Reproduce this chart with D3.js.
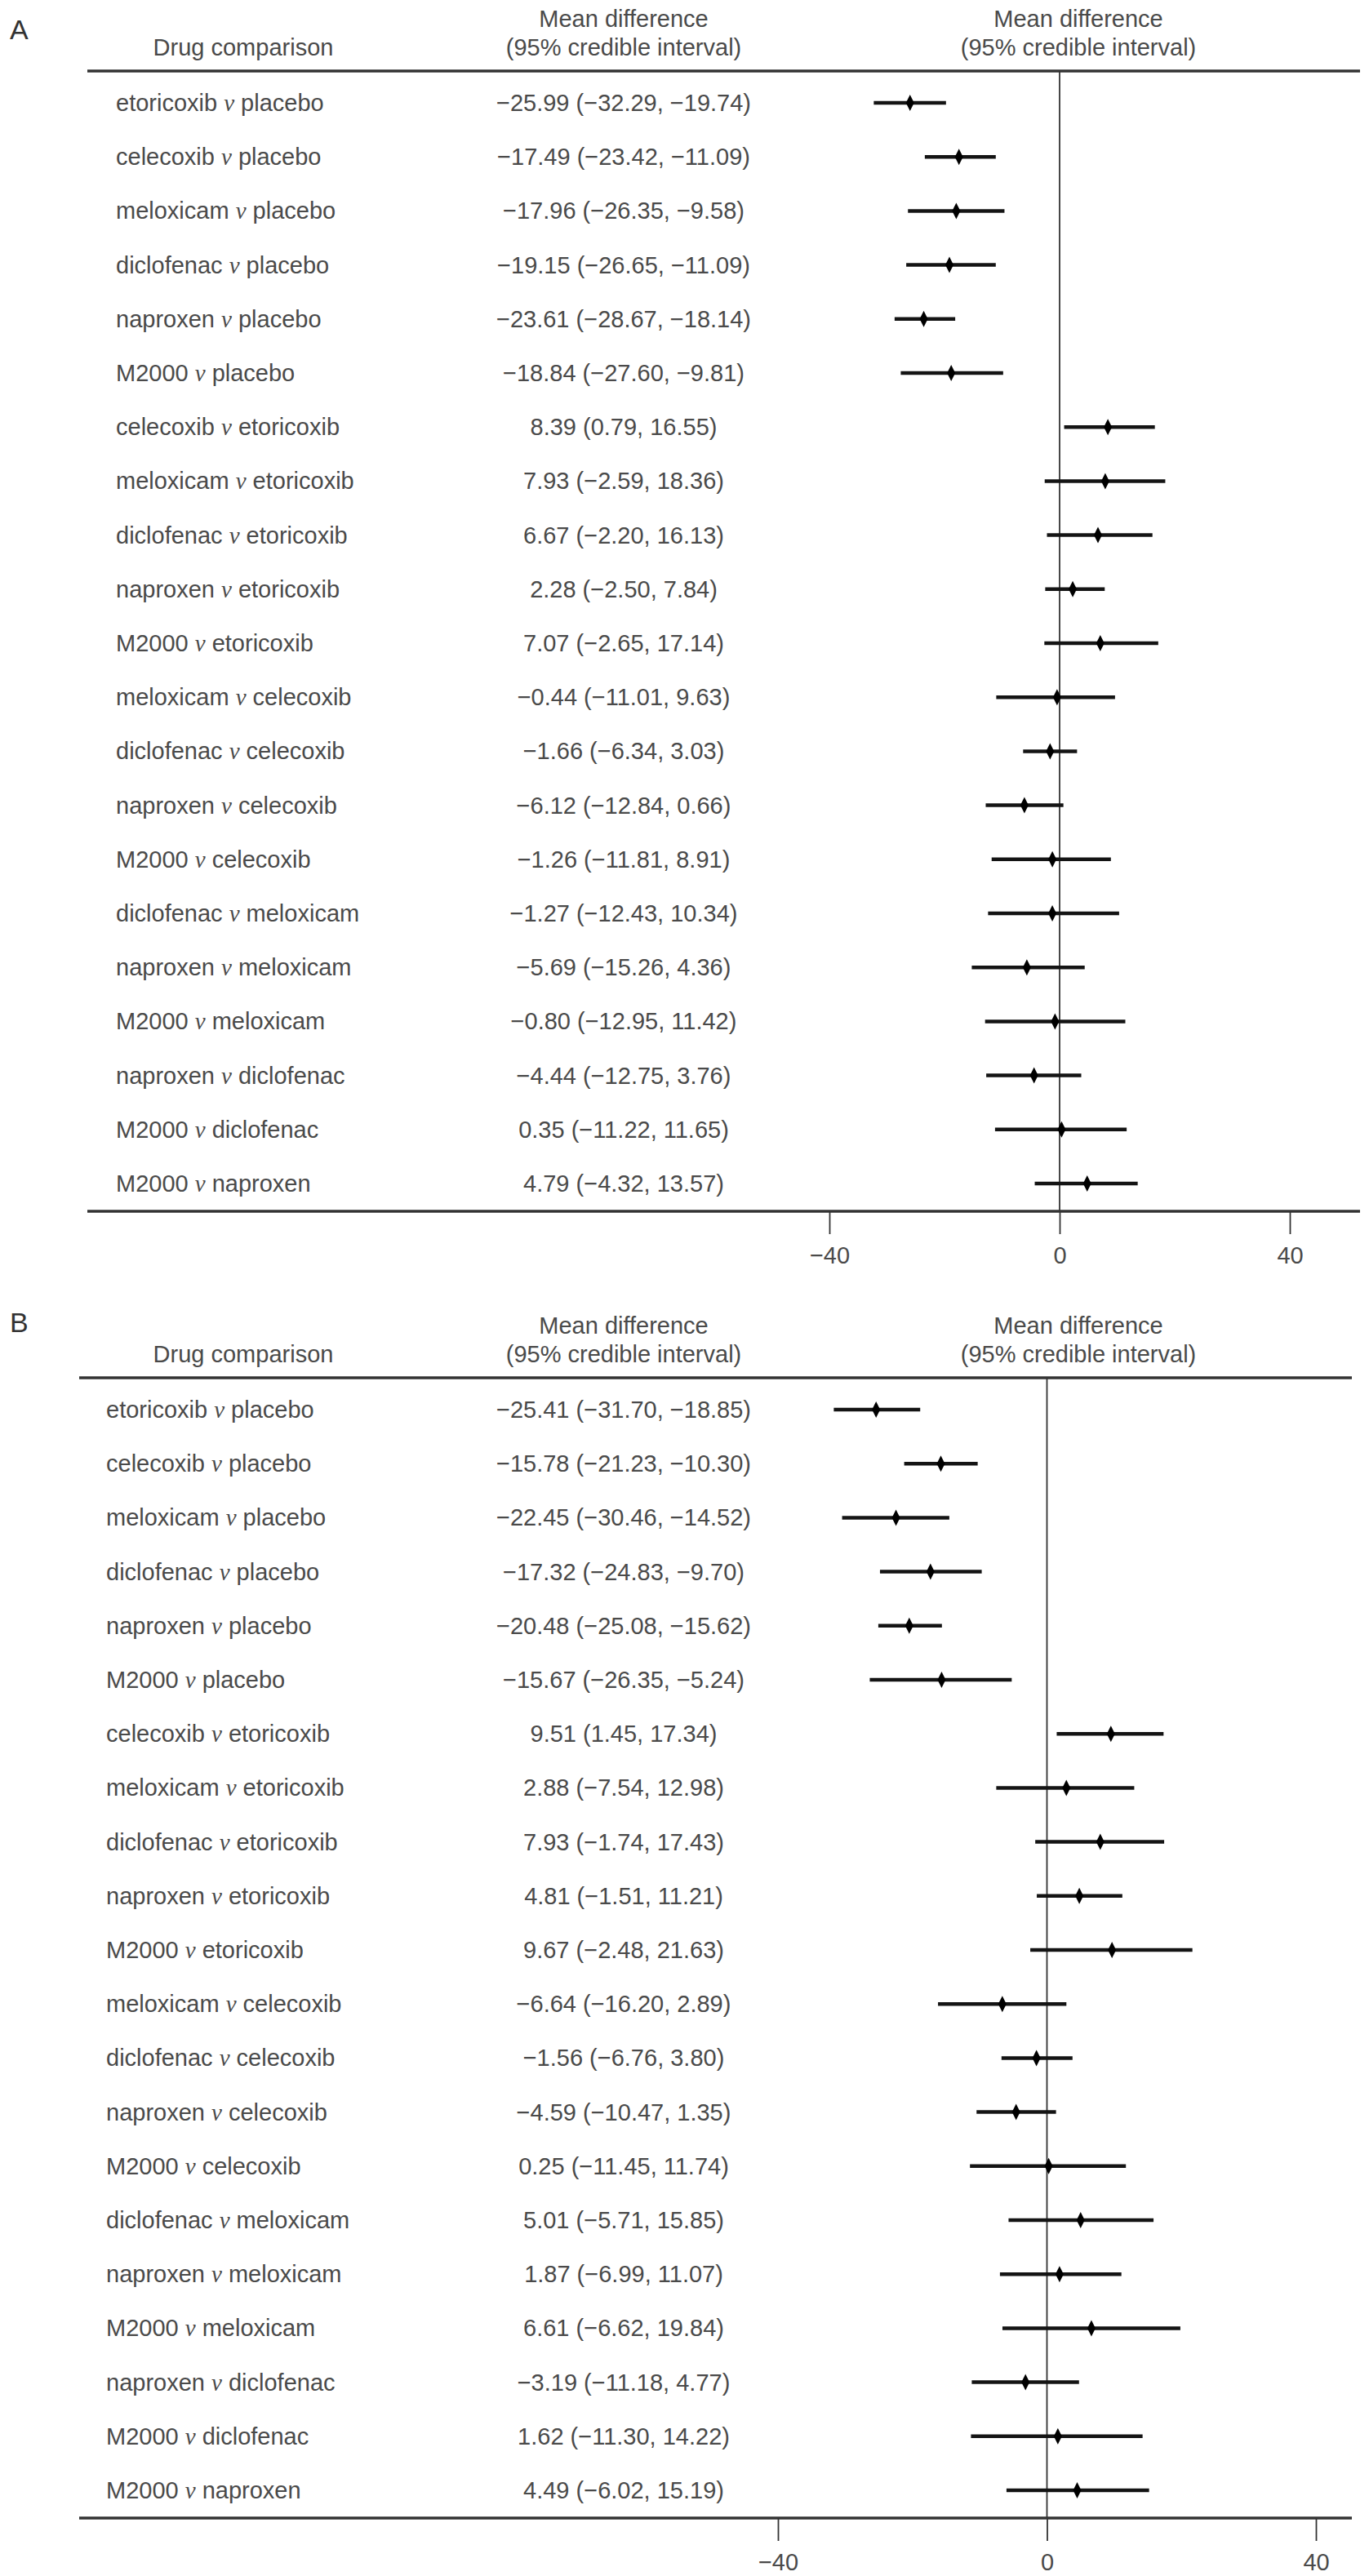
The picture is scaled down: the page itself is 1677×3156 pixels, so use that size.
<!DOCTYPE html>
<html>
<head>
<meta charset="utf-8">
<script src="https://cdn.jsdelivr.net/npm/d3@7"></script>
<style>
  body { margin: 0; background: #ffffff; }
  svg { display: block; }
</style>
</head>
<body>
<svg id="chart" width="1677" height="3156"></svg>
<script>
// ---------- DATA ----------
const comparisons = [
  "etoricoxib v placebo", "celecoxib v placebo", "meloxicam v placebo",
  "diclofenac v placebo", "naproxen v placebo", "M2000 v placebo",
  "celecoxib v etoricoxib", "meloxicam v etoricoxib", "diclofenac v etoricoxib",
  "naproxen v etoricoxib", "M2000 v etoricoxib", "meloxicam v celecoxib",
  "diclofenac v celecoxib", "naproxen v celecoxib", "M2000 v celecoxib",
  "diclofenac v meloxicam", "naproxen v meloxicam", "M2000 v meloxicam",
  "naproxen v diclofenac", "M2000 v diclofenac", "M2000 v naproxen"
];

const meanA = [-25.99, -17.49, -17.96, -19.15, -23.61, -18.84, 8.39, 7.93, 6.67, 2.28, 7.07,
               -0.44, -1.66, -6.12, -1.26, -1.27, -5.69, -0.80, -4.44, 0.35, 4.79];
const lowA  = [-32.29, -23.42, -26.35, -26.65, -28.67, -27.60, 0.79, -2.59, -2.20, -2.50, -2.65,
               -11.01, -6.34, -12.84, -11.81, -12.43, -15.26, -12.95, -12.75, -11.22, -4.32];
const highA = [-19.74, -11.09, -9.58, -11.09, -18.14, -9.81, 16.55, 18.36, 16.13, 7.84, 17.14,
               9.63, 3.03, 0.66, 8.91, 10.34, 4.36, 11.42, 3.76, 11.65, 13.57];

const meanB = [-25.41, -15.78, -22.45, -17.32, -20.48, -15.67, 9.51, 2.88, 7.93, 4.81, 9.67,
               -6.64, -1.56, -4.59, 0.25, 5.01, 1.87, 6.61, -3.19, 1.62, 4.49];
const lowB  = [-31.70, -21.23, -30.46, -24.83, -25.08, -26.35, 1.45, -7.54, -1.74, -1.51, -2.48,
               -16.20, -6.76, -10.47, -11.45, -5.71, -6.99, -6.62, -11.18, -11.30, -6.02];
const highB = [-18.85, -10.30, -14.52, -9.70, -15.62, -5.24, 17.34, 12.98, 17.43, 11.21, 21.63,
               2.89, 3.80, 1.35, 11.74, 15.85, 11.07, 19.84, 4.77, 14.22, 15.19];

const tickValues = [-40, 0, 40];
const panelLetters = ["A", "B"];
const headerCol1 = "Drug comparison";
const headerCol2 = ["Mean difference", "(95% credible interval)"];
const headerCol3 = ["Mean difference", "(95% credible interval)"];

// ---------- LAYOUT ----------
const FONT = "'Liberation Sans', Arial, Helvetica, sans-serif";
const TEXT_COL = "#4a4a4a";
const INK = "#141414";
const RULE = "#333333";
const FS = 29;

const panels = [
  { letter: panelLetters[0], top: 0,    letterY: 48, rule: [107, 1666], xr: [1016, 1580], labelX: 142,
    mean: meanA, low: lowA, high: highA },
  { letter: panelLetters[1], top: 1601, letterY: 31, rule: [97, 1656],  xr: [953, 1612],  labelX: 130,
    mean: meanB, low: lowB, high: highB }
];

const svg = d3.select("#chart");
svg.append("rect").attr("width", 1677).attr("height", 3156).attr("fill", "#fff");

const fmt = v => d3.format(".2f")(v).replace("-", "\u2013");
const fmtTick = v => d3.format("d")(v).replace("-", "\u2013");

panels.forEach(p => {
  const g = svg.append("g").attr("transform", `translate(0,${p.top})`);
  const ruleTop = 87, axisY = 1484;
  const y = d3.scalePoint().domain(comparisons).range([126, 1450]);
  const x = d3.scaleLinear().domain([-40, 40]).range(p.xr);

  // panel letter
  g.append("text").attr("x", 12).attr("y", p.letterY)
    .attr("font-family", FONT).attr("font-size", 34).attr("fill", "#333")
    .text(p.letter);

  // headers
  g.append("text").attr("x", 298).attr("y", 68).attr("text-anchor", "middle")
    .attr("font-family", FONT).attr("font-size", FS).attr("fill", TEXT_COL).text(headerCol1);
  headerCol2.forEach((t, i) => {
    g.append("text").attr("x", 764).attr("y", 33 + i * 35).attr("text-anchor", "middle")
      .attr("font-family", FONT).attr("font-size", FS).attr("fill", TEXT_COL).text(t);
  });
  headerCol3.forEach((t, i) => {
    g.append("text").attr("x", 1321).attr("y", 33 + i * 35).attr("text-anchor", "middle")
      .attr("font-family", FONT).attr("font-size", FS).attr("fill", TEXT_COL).text(t);
  });

  // header rule
  g.append("line").attr("x1", p.rule[0]).attr("x2", p.rule[1])
    .attr("y1", ruleTop).attr("y2", ruleTop).attr("stroke", RULE).attr("stroke-width", 3.5);

  // zero reference line
  g.append("line").attr("x1", x(0)).attr("x2", x(0)).attr("y1", ruleTop).attr("y2", axisY)
    .attr("stroke", RULE).attr("stroke-width", 1.8);

  // bottom axis
  const axis = d3.axisBottom(x).tickValues(tickValues).tickSize(28).tickPadding(8)
    .tickFormat(fmtTick);
  const ag = g.append("g").attr("transform", `translate(0,${axisY})`).call(axis);
  ag.select(".domain").remove();
  ag.selectAll(".tick line").attr("stroke", RULE).attr("stroke-width", 1.8);
  ag.selectAll(".tick text").attr("font-family", FONT).attr("font-size", FS)
    .attr("fill", TEXT_COL).attr("dy", "0.95em");
  g.append("line").attr("x1", p.rule[0]).attr("x2", p.rule[1])
    .attr("y1", axisY).attr("y2", axisY).attr("stroke", RULE).attr("stroke-width", 3.5);

  // rows
  comparisons.forEach((c, i) => {
    const cy = y(c);
    const parts = c.split(" v ");
    const t = g.append("text").attr("x", p.labelX).attr("y", cy + 10)
      .attr("font-family", FONT).attr("font-size", FS).attr("fill", TEXT_COL);
    t.append("tspan").text(parts[0] + " ");
    t.append("tspan").attr("font-family", "'Liberation Serif', 'DejaVu Serif', serif")
      .attr("font-style", "italic").text("v");
    t.append("tspan").text(" " + parts[1]);

    g.append("text").attr("x", 764).attr("y", cy + 10).attr("text-anchor", "middle")
      .attr("font-family", FONT).attr("font-size", FS).attr("fill", TEXT_COL)
      .text(`${fmt(p.mean[i])} (${fmt(p.low[i])}, ${fmt(p.high[i])})`);

    g.append("line").attr("x1", x(p.low[i])).attr("x2", x(p.high[i]))
      .attr("y1", cy).attr("y2", cy).attr("stroke", INK).attr("stroke-width", 4.5);

    const mx = x(p.mean[i]);
    g.append("path")
      .attr("d", `M${mx},${cy - 10}L${mx + 5},${cy}L${mx},${cy + 10}L${mx - 5},${cy}Z`)
      .attr("fill", "#000");
  });
});
</script>
</body>
</html>
